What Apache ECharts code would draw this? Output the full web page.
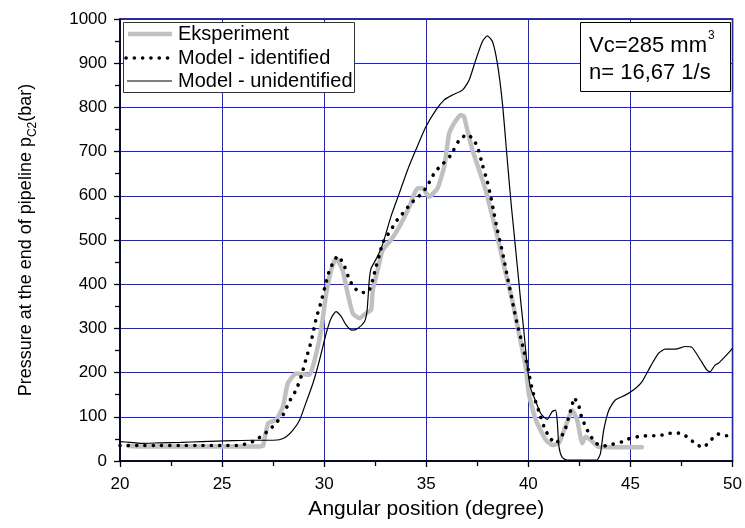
<!DOCTYPE html>
<html>
<head>
<meta charset="utf-8">
<script src="https://cdn.jsdelivr.net/npm/echarts@6/dist/echarts.min.js"></script>
<style>
  html, body { margin: 0; padding: 0; background: #fff; }
  #chart { width: 745px; height: 528px; }
</style>
</head>
<body>
<div id="chart"></div>
<script>
// Measured pressure at the end of the pipeline (angle in degrees, pressure in bar)
const expX = [20.4, 21, 22, 23, 24, 25, 26, 26.8, 27.0, 27.25, 27.65, 27.98, 28.22, 28.63, 29.28, 29.53, 29.85, 30.1, 30.34, 30.58, 30.9, 31.15, 31.4, 31.72, 32.05, 32.3, 32.38, 32.62, 32.86, 33.27, 33.68, 34.17, 34.57, 34.82, 35.14, 35.55, 35.88, 36.12, 36.37, 36.69, 36.85, 37.01, 37.26, 37.59, 37.91, 38.24, 38.56, 38.89, 39.21, 39.54, 39.87, 40.03, 40.36, 40.85, 41.17, 41.5, 41.82, 42.15, 42.39, 42.64, 42.8, 43.04, 43.45, 44.43, 45.56];
const expY = [34, 33, 33, 33, 33, 33, 33, 33, 34, 85, 93, 123, 176, 198, 195, 228, 296, 379, 432, 459, 432, 379, 334, 323, 334, 342, 387, 432, 477, 500, 530, 575, 617, 617, 598, 617, 666, 741, 765, 783, 779, 749, 704, 658, 613, 553, 492, 425, 364, 289, 213, 150, 93, 48, 36, 41, 78, 115, 93, 40, 55, 48, 32, 31, 31];

// Model with identified parameters
const identX = [20.0, 21, 22, 23, 24, 25, 25.7, 26.1, 26.5, 26.92, 27.33, 27.7, 28.01, 28.22, 28.38, 28.63, 28.87, 29.12, 29.36, 29.61, 29.85, 30.06, 30.26, 30.47, 30.66, 30.94, 31.18, 31.43, 31.8, 32.17, 32.38, 32.54, 32.7, 32.86, 33.1, 33.35, 33.6, 33.92, 34.25, 34.66, 34.98, 35.2, 35.44, 35.83, 36.2, 36.61, 37.01, 37.34, 37.55, 37.75, 37.99, 38.16, 38.32, 38.48, 38.65, 38.81, 38.97, 39.14, 39.3, 39.46, 39.62, 39.79, 40.0, 40.16, 40.33, 40.52, 40.76, 41.01, 41.33, 41.57, 41.82, 41.98, 42.15, 42.23, 42.44, 42.6, 42.8, 43.01, 43.32, 43.69, 44.13, 44.56, 44.91, 45.37, 45.76, 46.18, 46.57, 46.99, 47.38, 47.81, 48.2, 48.57, 48.95, 49.28, 49.67, 49.8];
const identY = [35, 35, 35, 35, 35, 35, 35, 38, 44, 56, 71, 89, 106, 127, 142, 161, 191, 232, 270, 323, 360, 398, 432, 451, 464, 447, 417, 394, 381, 383, 410, 440, 465, 493, 511, 529, 547, 564, 583, 600, 617, 635, 655, 673, 692, 726, 739, 726, 704, 670, 632, 598, 560, 523, 489, 455, 417, 379, 342, 308, 280, 248, 205, 168, 138, 112, 78, 55, 40, 51, 74, 100, 127, 143, 130, 100, 78, 59, 40, 34, 38, 43, 50, 55, 57, 57, 59, 63, 63, 54, 38, 31, 48, 61, 57, 57];

// Model without identified parameters
const unidX = [20.0, 20.5, 21, 21.95, 23, 24, 25.5, 26.5, 27.5, 27.8, 28.14, 28.47, 28.8, 29.04, 29.45, 29.77, 30.1, 30.34, 30.58, 30.83, 31.07, 31.36, 31.64, 31.97, 32.1, 32.21, 32.3, 32.57, 32.86, 33.27, 33.68, 34.08, 34.49, 34.98, 35.47, 35.88, 36.28, 36.77, 37.1, 37.42, 37.75, 37.99, 38.24, 38.48, 38.73, 38.97, 39.14, 39.3, 39.46, 39.62, 39.79, 39.95, 40.11, 40.36, 40.6, 40.92, 41.17, 41.33, 41.41, 41.5, 41.66, 41.9, 42.5, 43.0, 43.36, 43.53, 43.69, 43.94, 44.26, 44.75, 45.16, 45.56, 45.97, 46.38, 46.71, 47.2, 47.69, 48.01, 48.42, 48.74, 48.9, 49.14, 49.31, 49.63, 50];
const unidY = [44, 42, 40, 41, 42, 44, 46, 47, 47, 48, 55, 70, 93, 123, 176, 228, 289, 323, 338, 327, 308, 296, 300, 315, 340, 410, 436, 459, 490, 553, 606, 658, 704, 756, 794, 817, 828, 839, 862, 907, 949, 962, 949, 900, 809, 680, 590, 515, 440, 364, 289, 213, 165, 135, 108, 94, 112, 115, 93, 32, 8, 2, 2, 2, 2, 17, 70, 115, 138, 149, 161, 179, 213, 244, 253, 253, 259, 257, 229, 206, 202, 217, 221, 236, 255];

const seriesNames = ['Eksperiment', 'Model - identified', 'Model - unidentified'];
const noteLines = ['Vc=285 mm', 'n= 16,67 1/s'];

const zip = (xs, ys) => xs.map((x, i) => [x, ys[i]]);
const FONT = '"Liberation Sans", Arial, sans-serif';
const GRID_BLUE = '#1a1aff';

const chart = echarts.init(document.getElementById('chart'), null, { renderer: 'canvas' });

const axisCommon = {
  type: 'value',
  axisLine: { show: true, lineStyle: { color: '#000', width: 1.5 } },
  axisTick: { show: true, inside: false, length: 6, lineStyle: { color: '#000', width: 1.3 } },
  minorTick: { show: true, splitNumber: 2, length: 5, lineStyle: { color: '#000', width: 1.3 } },
  splitLine: { show: true, lineStyle: { color: GRID_BLUE, width: 1 } },
  axisLabel: { color: '#000', fontSize: 17, fontFamily: FONT, formatter: v => String(v) }
};

chart.setOption({
  animation: false,
  backgroundColor: '#fff',
  grid: {
    left: 120, right: 11, top: 19, bottom: 67,
    show: true, borderColor: '#000', borderWidth: 1.5
  },
  xAxis: Object.assign({}, axisCommon, {
    min: 20, max: 50, interval: 5,
    axisLabel: Object.assign({}, axisCommon.axisLabel, { margin: 15 }),
    name: 'Angular position (degree)',
    nameLocation: 'middle', nameGap: 38,
    nameTextStyle: { color: '#000', fontSize: 21, fontFamily: FONT }
  }),
  yAxis: Object.assign({}, axisCommon, {
    min: 0, max: 1000, interval: 100,
    axisLabel: Object.assign({}, axisCommon.axisLabel, { margin: 13 })
  }),
  series: [
    {
      name: seriesNames[0], type: 'line', data: zip(expX, expY),
      showSymbol: false, smooth: 0.15,
      lineStyle: { color: '#c0c0c0', width: 4.5, join: 'round', cap: 'round' },
      z: 2
    },
    {
      name: seriesNames[1], type: 'line', data: zip(identX, identY),
      showSymbol: false, smooth: 0.15,
      lineStyle: { color: '#000', width: 3.6, type: [0.1, 8.2], cap: 'round' },
      z: 3
    },
    {
      name: seriesNames[2], type: 'line', data: zip(unidX, unidY),
      showSymbol: false, smooth: 0.2,
      lineStyle: { color: '#000', width: 1.2 },
      z: 4
    }
  ],
  graphic: [
    // vertical axis title with subscript
    { type: 'text', x: 23, y: 240, rotation: Math.PI / 2, z: 11,
      style: {
        text: '{a|Pressure at the end of pipeline p}{b|C2}{a|(bar)}',
        align: 'center', verticalAlign: 'middle',
        rich: {
          a: { fontSize: 18, fontFamily: FONT, fill: '#000', lineHeight: 24, verticalAlign: 'bottom' },
          b: { fontSize: 12, fontFamily: FONT, fill: '#000', lineHeight: 24, verticalAlign: 'bottom', padding: [0, 0, -4, 0] }
        }
      } },
    // legend box
    { type: 'rect', shape: { x: 123.5, y: 22.5, width: 231, height: 70 },
      style: { fill: '#fff', stroke: '#333', lineWidth: 1 }, z: 10 },
    { type: 'line', shape: { x1: 128, y1: 34, x2: 172, y2: 34 },
      style: { stroke: '#c0c0c0', lineWidth: 4.5 }, z: 11 },
    { type: 'line', shape: { x1: 126, y1: 58, x2: 172, y2: 58 },
      style: { stroke: '#000', lineWidth: 3.6, lineDash: [0.1, 8.2], lineCap: 'round' }, z: 11 },
    { type: 'line', shape: { x1: 127, y1: 81, x2: 172, y2: 81 },
      style: { stroke: '#000', lineWidth: 1.2 }, z: 11 },
    { type: 'text', x: 178, y: 34, z: 11,
      style: { text: seriesNames[0], fill: '#000', font: '20px ' + FONT, verticalAlign: 'middle' } },
    { type: 'text', x: 178, y: 58, z: 11,
      style: { text: seriesNames[1], fill: '#000', font: '20px ' + FONT, verticalAlign: 'middle' } },
    { type: 'text', x: 178, y: 81, z: 11,
      style: { text: seriesNames[2], fill: '#000', font: '20px ' + FONT, verticalAlign: 'middle' } },
    // operating point note
    { type: 'rect', shape: { x: 580.5, y: 22.5, width: 150, height: 69 },
      style: { fill: '#fff', stroke: '#000', lineWidth: 1 }, z: 10 },
    { type: 'text', x: 589, y: 46, z: 11,
      style: { text: noteLines[0], fill: '#000', font: '22px ' + FONT, verticalAlign: 'middle' } },
    { type: 'text', x: 708, y: 36, z: 11,
      style: { text: '3', fill: '#000', font: '12px ' + FONT, verticalAlign: 'middle' } },
    { type: 'text', x: 589, y: 73, z: 11,
      style: { text: noteLines[1], fill: '#000', font: '22px ' + FONT, verticalAlign: 'middle' } }
  ]
});
</script>
</body>
</html>
